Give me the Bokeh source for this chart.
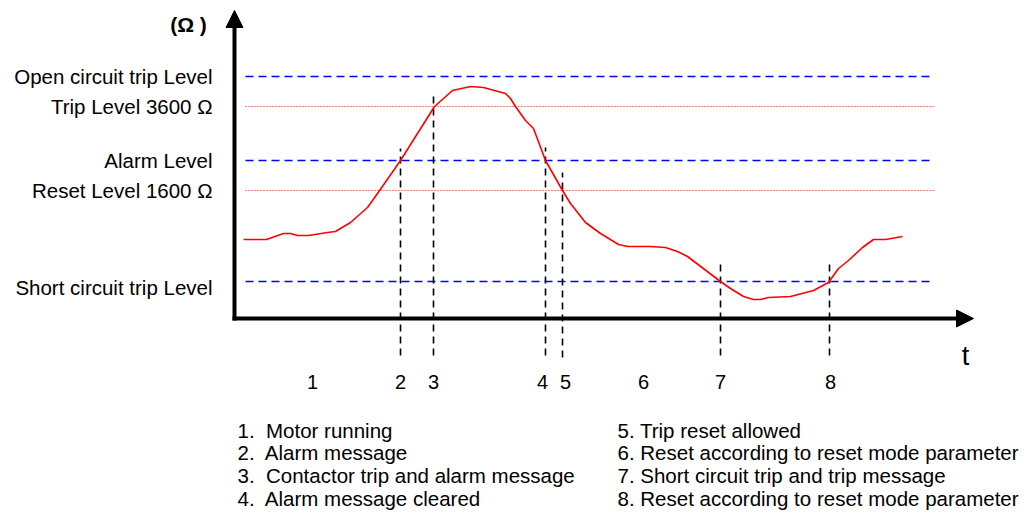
from bokeh.plotting import figure
from bokeh.models import Range1d, Arrow, NormalHead
from bokeh.core.properties import value
from bokeh.embed import file_html
from bokeh.resources import INLINE

# ---- data (time units t, resistance units r, origin at axis crossing) ----
curve_t = [9, 32, 49, 56, 63, 74, 93, 101, 116, 133, 143, 166, 200, 218, 236, 249, 271, 276, 281,
           291, 299, 311, 328, 336, 351, 366, 384, 393, 416, 431, 443, 453, 486, 496, 509, 519,
           526, 534, 556, 579, 594, 604, 614, 628, 639, 651, 668]
curve_r = [79, 79, 85, 85, 83, 83, 86, 87, 96, 111, 125, 158, 212, 228, 232, 231, 225, 220, 212,
           198, 190, 158, 128, 115, 96, 85, 74, 72, 72, 71, 67, 62, 37, 30, 22, 19,
           19, 21, 22, 28, 36, 50, 58, 71, 79, 79, 82]

level_names = ["Open circuit trip Level", "Trip Level 3600 \u03a9", "Alarm Level",
               "Reset Level 1600 \u03a9", "Short circuit trip Level"]
level_values = [242, 212, 158, 128, 37]
level_label_y = [242, 212, 158, 128, 31]
level_kind = ["dash", "dot", "dash", "dot", "dash"]

event_t = [166, 199, 311, 328, 486, 595]
event_top = [170, 226, 171, 146, 55, 55]
event_bottom = [-37, -37, -37, -39, -37, -37]

number_labels = ["1", "2", "3", "4", "5", "6", "7", "8"]
number_t = [78, 166, 199, 308, 331, 409, 486, 596]

legend_left = ["1.\u00a0 Motor running", "2.\u00a0 Alarm message",
               "3.\u00a0 Contactor trip and alarm message", "4.\u00a0 Alarm message cleared"]
legend_right = ["5. Trip reset allowed", "6. Reset according to reset mode parameter",
                "7. Short circuit trip and trip message", "8. Reset according to reset mode parameter"]
legend_rows_y = [-112, -134, -157, -180]

T_LINE_START, T_LINE_END = 11, 699
T_AXIS_END, R_AXIS_END = 739, 308

W, H = 1031, 513
p = figure(width=W, height=H, output_backend="svg", toolbar_location=None,
           x_range=Range1d(-234, 797), y_range=Range1d(-195, 318),
           min_border=0, outline_line_color=None)
p.axis.visible = False
p.grid.visible = False
p.background_fill_color = "white"

# level lines
for v, k in zip(level_values, level_kind):
    if k == "dash":
        p.line([T_LINE_START, T_LINE_END], [v, v], line_color="#0000ff", line_width=1.6,
               line_dash="8 5")
    else:
        p.line([T_LINE_START, T_LINE_END], [v, v], line_color="#ff0000", line_width=1,
               line_dash="1 2")

# event verticals
p.segment(x0=event_t, y0=event_bottom, x1=event_t, y1=event_top, line_color="black",
          line_width=1.6, line_dash="7 5")

# curve
p.line(curve_t, curve_r, line_color="#ff0000", line_width=1.6)

# axes with arrows
p.add_layout(Arrow(end=NormalHead(size=17, fill_color="black", line_color="black"),
                   x_start=0, y_start=-2, x_end=0, y_end=R_AXIS_END,
                   line_width=4, line_color="black"))
p.add_layout(Arrow(end=NormalHead(size=17, fill_color="black", line_color="black"),
                   x_start=-2, y_start=0, x_end=T_AXIS_END, y_end=0,
                   line_width=4, line_color="black"))

FONT = value("Liberation Sans")

# level labels
p.text(x=[-22] * len(level_names), y=level_label_y, text=level_names,
       text_font=FONT, text_font_size="20.5px", text_align="right",
       text_baseline="middle", text_color="black")

# ohm unit label
p.text(x=[-46], y=[294], text=["(\u03a9 )"], text_font=FONT,
       text_font_size="21px", text_font_style="bold", text_align="center",
       text_baseline="middle", text_color="black")

# t label
p.text(x=[731], y=[-37], text=["t"], text_font=FONT,
       text_font_size="27px", text_align="center", text_baseline="middle", text_color="black")

# numbers
p.text(x=number_t, y=[-63] * len(number_t), text=number_labels,
       text_font=FONT, text_font_size="20px", text_align="center",
       text_baseline="middle", text_color="black")

# legend
p.text(x=[3] * 4, y=legend_rows_y, text=legend_left, text_font=FONT,
       text_font_size="20.5px", text_align="left", text_baseline="middle", text_color="black")
p.text(x=[383] * 4, y=legend_rows_y, text=legend_right, text_font=FONT,
       text_font_size="20.5px", text_align="left", text_baseline="middle", text_color="black")

open("out.html", "w").write(file_html(p, INLINE))
